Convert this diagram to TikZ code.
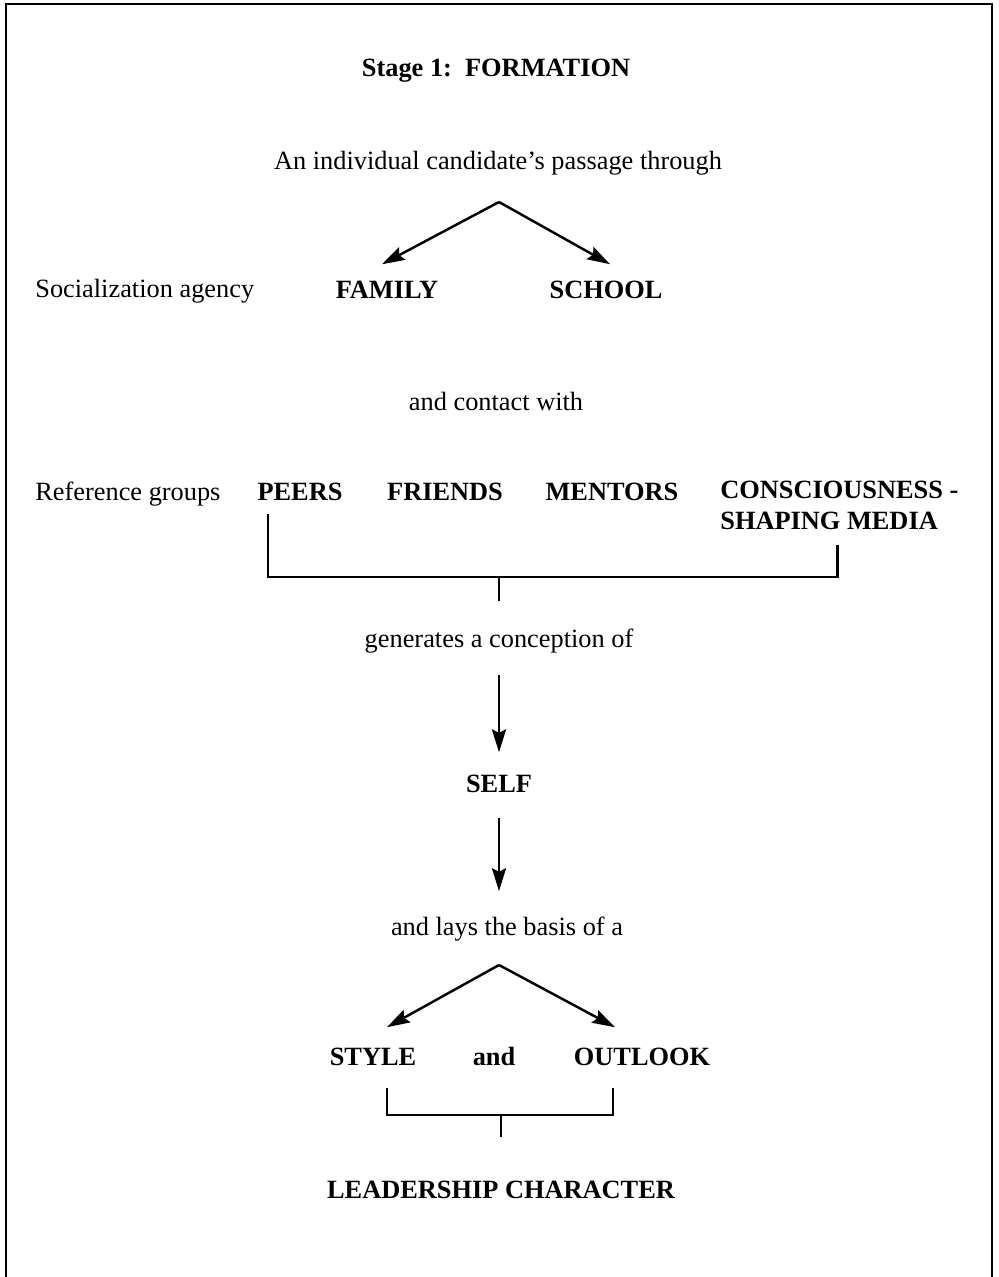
\documentclass[tikz,border=0pt]{standalone}
\usepackage{fontspec}
\setmainfont{Liberation Serif}
\usetikzlibrary{arrows.meta}
\tikzset{
  plaintext/.style={inner sep=0, anchor=base, font=\fontsize{15}{18}\selectfont},
  boldtext/.style={plaintext, font=\fontsize{15}{18}\selectfont\bfseries},
  link/.style={line width=1.4pt},
  >={Stealth[length=13pt,width=8pt,inset=2pt]}
}
\begin{document}
\begin{tikzpicture}[x=0.02cm,y=-0.02cm]
        \useasboundingbox (0,0) rectangle (998,1277);
        \draw[line width=1.1pt] (6,1277) |- (992,4) -- (992,1277);
        \node[boldtext] (title) at (496,77) {Stage 1:\ \ FORMATION};
        \node[plaintext] (passage) at (498,170) {An individual candidate's passage through};
        \node[plaintext, anchor=base west] (agency) at (35,297) {Socialization agency};
        \node[boldtext] (family) at (387,298) {FAMILY};
        \node[boldtext] (school) at (606,298) {SCHOOL};
        \node[plaintext] (contact) at (496,410) {and contact with};
        \node[plaintext, anchor=base west] (groups) at (35,500) {Reference groups};
        \node[boldtext] (peers) at (300,500) {PEERS};
        \node[boldtext] (friends) at (445,500) {FRIENDS};
        \node[boldtext] (mentors) at (612,500) {MENTORS};
        \node[boldtext, anchor=north west, align=left] (media) at (720,481) {CONSCIOUSNESS -\\[-0.6pt]SHAPING MEDIA};
        \node[plaintext] (conception) at (499,647) {generates a conception of};
        \node[boldtext] (self) at (499,792) {SELF};
        \node[plaintext] (basis) at (507,935) {and lays the basis of a};
        \node[boldtext] (style) at (373,1065) {STYLE};
        \node[boldtext] (andword) at (494,1065) {and};
        \node[boldtext] (outlook) at (642,1065) {OUTLOOK};
        \node[boldtext] (character) at (501,1198) {LEADERSHIP CHARACTER};
        \coordinate (apexA) at (499,202);
        \coordinate (joinA) at (499,577);
        \coordinate (apexB) at (499,965);
        \coordinate (joinB) at (501,1115);
        \draw[link,->] (apexA) -- ([shift={(-5,-16)}]family.north);
        \draw[link,->] (apexA) -- ([shift={(4,-16)}]school.north);
        \draw[link] ([shift={(-32,13)}]peers.south) |- (joinA) -| ([shift={(-2,15)}]media.south);
        \draw[link] (joinA) -- ([shift={(0,-27)}]conception.north);
        \draw[link,->] ([shift={(0,22)}]conception.south) -- ([shift={(0,-22)}]self.north);
        \draw[link,->] ([shift={(0,25)}]self.south) -- ([shift={(-8,-25)}]basis.north);
        \draw[link,->] (apexB) -- ([shift={(14,-20)}]style.north);
        \draw[link,->] (apexB) -- ([shift={(-27,-20)}]outlook.north);
        \draw[link] ([shift={(14,22)}]style.south) |- (joinB) -| ([shift={(-29,22)}]outlook.south);
        \draw[link] (joinB) -- ([shift={(0,-43)}]character.north);
\end{tikzpicture}
\end{document}
